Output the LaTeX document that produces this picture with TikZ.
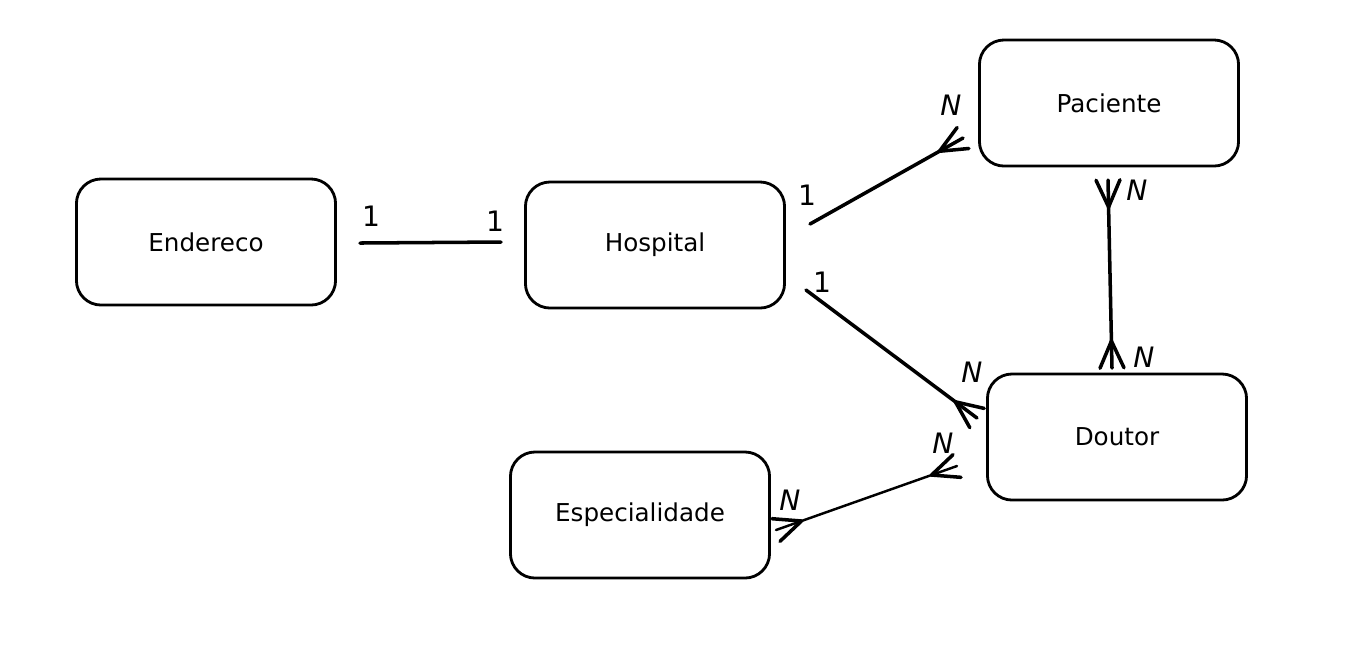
\documentclass[tikz,border=0pt]{standalone}
\usepackage{fontspec}
\setmainfont{DejaVu Sans}
\usetikzlibrary{calc}
\tikzset{
  entity/.style={draw, line width=0.8pt, rounded corners=7pt,
    minimum width=2.59cm, minimum height=1.26cm,
    font=\fontsize{7}{9}\selectfont},
  conn/.style={line width=1pt, line cap=round},
  card/.style={font=\fontsize{8}{10}\selectfont, inner sep=0pt}
}
% crow's foot at #1, line coming from #2
\newcommand{\crowfoot}[2]{%
  \draw[conn] ($(#1)!0.27cm!(#2)$) -- ($(#1)!0.12cm!90:(#2)$);
  \draw[conn] ($(#1)!0.27cm!(#2)$) -- ($(#1)!0.12cm!-90:(#2)$);
}
\begin{document}
\begin{tikzpicture}[x=0.01cm, y=-0.01cm]
	\useasboundingbox (0,0) rectangle (1366,650);
	\node[entity] (endereco) at (206,242) {Endereco};
	\node[entity] (hospital) at (655,245) {Hospital};
	\node[entity] (paciente) at (1109,103) {Paciente};
	\node[entity] (doutor) at (1117,437) {Doutor};
	\node[entity] (especialidade) at (640,515) {Especialidade};
	
	\coordinate (eh1) at (360,243);
	\coordinate (eh2) at (501,242);
	\coordinate (hp1) at (810,224);
	\coordinate (hp2) at (963,138);
	\coordinate (hd1) at (806,290);
	\coordinate (hd2) at (977,418);
	\coordinate (pd1) at (1108,180);
	\coordinate (pd2) at (1112,368);
	\coordinate (sd1) at (776,530);
	\coordinate (sd2) at (957,466);
	
	\draw[conn] (eh1) -- (eh2);
	\draw[conn] (hp1) -- (hp2);
	\draw[conn] (hd1) -- (hd2);
	\draw[conn] (pd1) -- (pd2);
	\draw[conn, line width=0.7pt] (sd1) -- (sd2);
	
	\crowfoot{hp2}{hp1}
	\crowfoot{hd2}{hd1}
	\crowfoot{pd1}{pd2}
	\crowfoot{pd2}{pd1}
	\crowfoot{sd1}{sd2}
	\crowfoot{sd2}{sd1}
	
	\node[card] (c1) at (371,216) {1};
	\node[card] (c2) at (495,221) {1};
	\node[card] (c3) at (807,195) {1};
	\node[card] (c4) at (951,105) {\textit{N}};
	\node[card] (c5) at (822,282) {1};
	\node[card] (c6) at (972,372) {\textit{N}};
	\node[card] (c7) at (1137,190) {\textit{N}};
	\node[card] (c8) at (1144,357) {\textit{N}};
	\node[card] (c9) at (790,500) {\textit{N}};
	\node[card] (c10) at (943,443) {\textit{N}};
\end{tikzpicture}
\end{document}
